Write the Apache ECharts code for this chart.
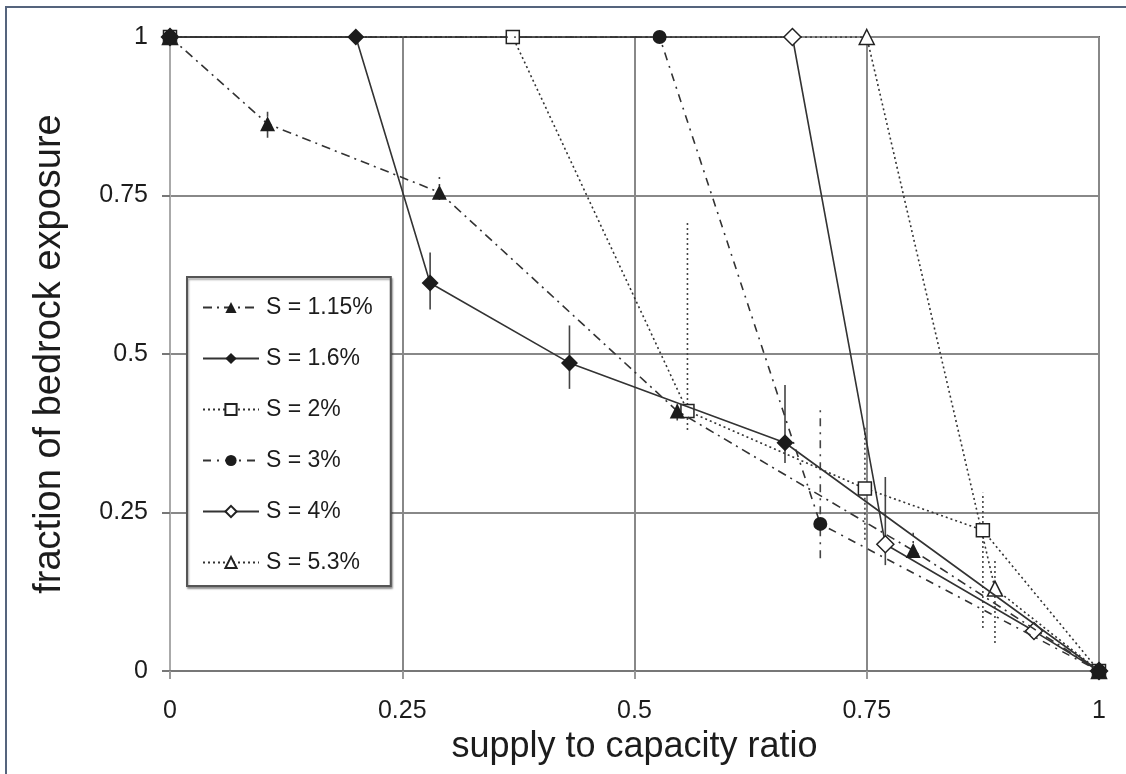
<!DOCTYPE html>
<html>
<head>
<meta charset="utf-8">
<script src="https://cdn.jsdelivr.net/npm/echarts@6/dist/echarts.min.js"></script>
<style>html,body{margin:0;padding:0;background:#fff;}#c{width:1126px;height:774px;}</style>
</head>
<body>
<div id="c"></div>
<script>
// ---- data ----
const xTicks = [0, 0.25, 0.5, 0.75, 1];
const yTicks = [0, 0.25, 0.5, 0.75, 1];
const seriesNames = ['S = 1.15%', 'S = 1.6%', 'S = 2%', 'S = 3%', 'S = 4%', 'S = 5.3%'];

const s115 = [[0, 1], [0.105, 0.863], [0.29, 0.755], [0.546, 0.41], [0.8, 0.19], [1, 0]];
const s16  = [[0, 1], [0.2, 1], [0.28, 0.612], [0.43, 0.486], [0.662, 0.36], [1, 0]];
const s2   = [[0, 1], [0.369, 1], [0.557, 0.41], [0.748, 0.288], [0.875, 0.222], [1, 0]];
const s3   = [[0, 1], [0.527, 1], [0.7, 0.232], [1, 0]];
const s4   = [[0, 1], [0.67, 1], [0.77, 0.2], [0.93, 0.063], [1, 0]];
const s53  = [[0, 1], [0.75, 1], [0.888, 0.13], [1, 0]];

// error bars: [x, low, high]
const e115 = [[0.105, 0.841, 0.882], [0.29, 0.743, 0.779], [0.546, 0.395, 0.425], [0.8, 0.18, 0.218]];
const e16  = [[0.28, 0.57, 0.66], [0.43, 0.445, 0.545], [0.662, 0.328, 0.451]];
const e2   = [[0.557, 0.38, 0.708], [0.748, 0.207, 0.385], [0.875, 0.068, 0.281]];
const e3   = [[0.7, 0.178, 0.42]];
const e4   = [[0.77, 0.167, 0.306]];
const e53  = [[0.888, 0.044, 0.175]];

// ---- chart ----
const FONT = 'Liberation Sans, Arial, sans-serif';
const INK = '#1c1c1c';
const chart = echarts.init(document.getElementById('c'), null, {renderer: 'canvas'});

const styles = [
  {data: s115, err: e115, symbol: 'triangle', size: 15, fill: INK, dash: [9, 5, 2, 5], z: 5},
  {data: s16,  err: e16,  symbol: 'diamond',  size: 17, fill: INK, dash: 'solid', z: 6},
  {data: s2,   err: e2,   symbol: 'rect',     size: 13, fill: '#fff', dash: [2, 3], z: 3},
  {data: s3,   err: e3,   symbol: 'circle',   size: 14, fill: INK, dash: [8, 6, 2, 6], z: 5},
  {data: s4,   err: e4,   symbol: 'diamond',  size: 17, fill: '#fff', dash: 'solid', z: 3},
  {data: s53,  err: e53,  symbol: 'triangle', size: 15, fill: '#fff', dash: [2, 3], z: 3}
];

const series = [];
styles.forEach((st, i) => {
  series.push({
    type: 'custom',
    name: 'err' + i,
    data: st.err,
    encode: {x: 0, y: [1, 2]},
    z: 2,
    silent: true,
    renderItem: function (params, api) {
      const p1 = api.coord([api.value(0), api.value(1)]);
      const p2 = api.coord([api.value(0), api.value(2)]);
      return {
        type: 'line',
        shape: {x1: p1[0], y1: p1[1], x2: p2[0], y2: p2[1]},
        style: {stroke: '#444', lineWidth: 1.6, lineDash: st.dash === 'solid' ? null : st.dash}
      };
    }
  });
});
styles.forEach((st, i) => {
  series.push({
    type: 'line',
    name: seriesNames[i],
    data: st.data,
    symbol: st.symbol,
    symbolSize: st.size,
    showAllSymbol: true,
    z: st.z,
    lineStyle: {color: '#333', width: 1.6, type: st.dash},
    itemStyle: {color: st.fill, borderColor: '#222', borderWidth: st.fill === '#fff' ? 1.5 : 0},
    emphasis: {disabled: true}
  });
});

const fmt = v => (v === 0 ? '0' : v === 1 ? '1' : String(v));

chart.setOption({
  animation: false,
  backgroundColor: '#fff',
  grid: {left: 170, right: 27, top: 37, bottom: 103, show: true, borderColor: '#666', borderWidth: 2, backgroundColor: 'transparent'},
  xAxis: {
    type: 'value', min: 0, max: 1, interval: 0.25,
    name: 'supply to capacity ratio', nameLocation: 'middle', nameGap: 56,
    nameTextStyle: {fontFamily: FONT, fontSize: 36, color: INK},
    axisLine: {show: true, lineStyle: {color: '#777', width: 2}},
    axisTick: {show: true, inside: false, length: 8, lineStyle: {color: '#999', width: 2}},
    axisLabel: {formatter: fmt, margin: 28, fontFamily: FONT, fontSize: 25, color: INK},
    splitLine: {show: true, lineStyle: {color: '#888', width: 2}}
  },
  yAxis: {
    type: 'value', min: 0, max: 1, interval: 0.25,
    name: 'fraction of bedrock exposure', nameLocation: 'middle', nameGap: 101,
    nameTextStyle: {fontFamily: FONT, fontSize: 38, color: INK},
    axisLine: {show: true, lineStyle: {color: '#aaa', width: 2}},
    axisTick: {show: true, inside: false, length: 8, lineStyle: {color: '#777', width: 2}},
    axisLabel: {formatter: fmt, margin: 22, fontFamily: FONT, fontSize: 25, color: INK},
    splitLine: {show: true, lineStyle: {color: '#888', width: 2}}
  },
  legend: {
    data: seriesNames,
    orient: 'vertical',
    left: 187, top: 277,
    padding: [19, 18, 12, 15],
    itemWidth: 56, itemHeight: 14, itemGap: 28,
    backgroundColor: '#fff',
    borderColor: '#555', borderWidth: 2,
    shadowColor: 'rgba(0,0,0,0.35)', shadowBlur: 2, shadowOffsetX: 1, shadowOffsetY: 2,
    textStyle: {fontFamily: FONT, fontSize: 23, color: INK, padding: [0, 0, 0, 2]},
    selectedMode: false
  },
  graphic: [
    {type: 'polyline', silent: true, shape: {points: [[6, 774], [6, 7], [1126, 7]]}, style: {stroke: '#55647d', lineWidth: 2, fill: null}}
  ],
  series: series
});
</script>
</body>
</html>
